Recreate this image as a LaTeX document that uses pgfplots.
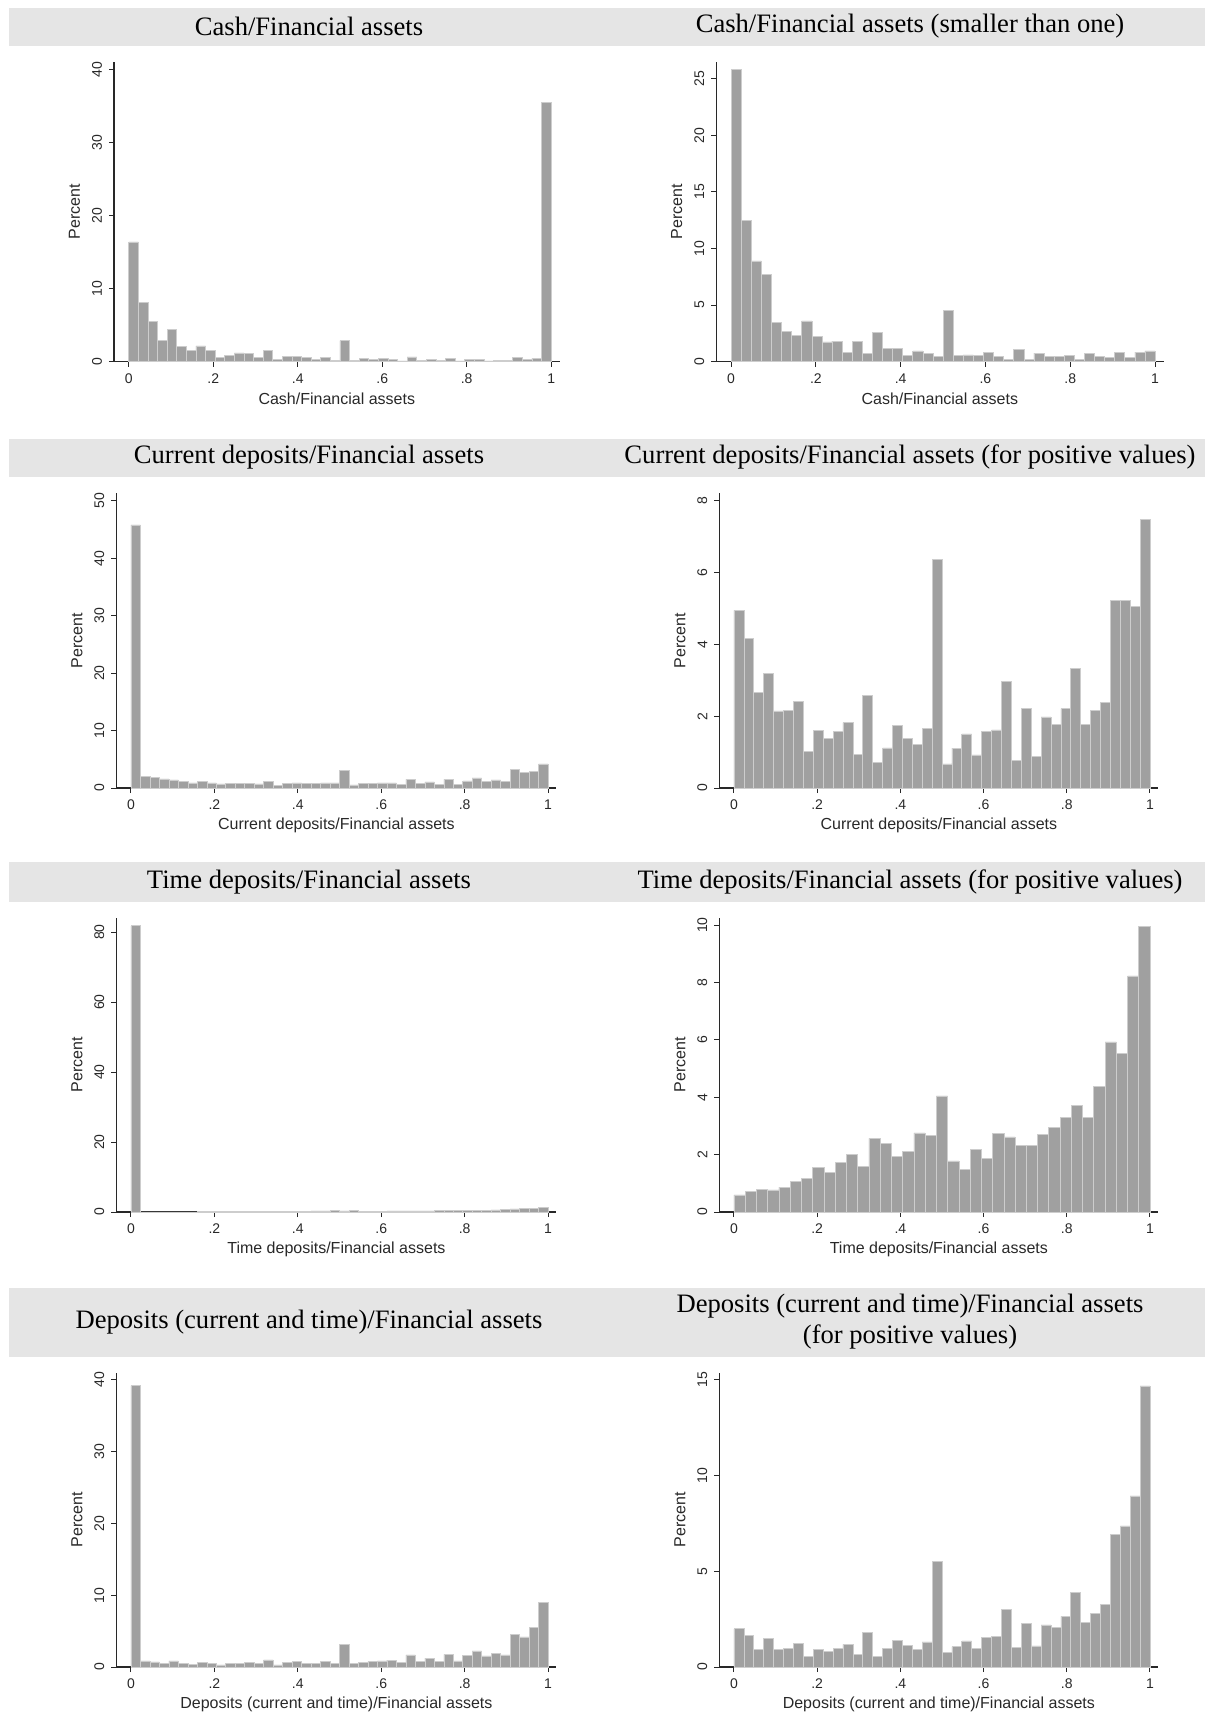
\documentclass[border=0pt]{standalone}
\usepackage{pgfplots}
\pgfplotsset{compat=1.18}
\usepackage{pgfplotstable}
\usepackage{fontspec}
\setmainfont{Liberation Sans}
\newfontfamily\titlefont{Liberation Serif}
\usetikzlibrary{calc}
\definecolor{barfill}{RGB}{160,160,160}
\definecolor{baredge}{RGB}{205,205,205}
\definecolor{band}{RGB}{229,229,229}
\definecolor{axcol}{RGB}{40,40,40}

% histogram heights (percent), bins of equal width on [0,1]; last row repeats the last bin (right edge)
\pgfplotstableread[header=false,row sep=\\]{16.4\\8.1\\5.5\\2.9\\4.4\\2.05\\1.55\\2.15\\1.6\\0.6\\0.9\\1.2\\1.15\\0.6\\1.6\\0.35\\0.75\\0.7\\0.55\\0.35\\0.55\\0.2\\2.9\\0.2\\0.45\\0.3\\0.45\\0.3\\0.1\\0.65\\0.2\\0.3\\0.15\\0.45\\0.1\\0.3\\0.35\\0.1\\0.15\\0.15\\0.55\\0.3\\0.45\\35.5\\35.5\\}\tA
\pgfplotstableread[header=false,row sep=\\]{25.8\\12.5\\8.9\\7.7\\3.45\\2.7\\2.35\\3.6\\2.25\\1.75\\1.8\\0.8\\1.8\\0.7\\2.6\\1.2\\1.2\\0.55\\0.95\\0.7\\0.45\\4.5\\0.55\\0.6\\0.55\\0.8\\0.5\\0.2\\1.1\\0.2\\0.75\\0.5\\0.45\\0.55\\0.2\\0.7\\0.45\\0.4\\0.8\\0.4\\0.85\\0.95\\0.95\\}\tB
\pgfplotstableread[header=false,row sep=\\]{45.8\\2.0\\1.8\\1.6\\1.4\\1.1\\0.9\\1.1\\0.9\\0.7\\0.8\\0.8\\0.85\\0.7\\1.2\\0.45\\0.75\\0.9\\0.75\\0.75\\0.9\\0.9\\3.1\\0.55\\0.75\\0.75\\0.9\\0.9\\0.6\\1.5\\0.75\\1.05\\0.65\\1.5\\0.65\\1.25\\1.75\\1.1\\1.4\\1.1\\3.25\\2.7\\2.9\\4.2\\4.2\\}\tC
\pgfplotstableread[header=false,row sep=\\]{4.95\\4.16\\2.67\\3.2\\2.15\\2.17\\2.41\\1.03\\1.61\\1.38\\1.57\\1.82\\0.94\\2.59\\0.72\\1.12\\1.74\\1.38\\1.21\\1.66\\6.36\\0.67\\1.11\\1.51\\0.92\\1.58\\1.62\\2.98\\0.76\\2.21\\0.88\\1.98\\1.78\\2.21\\3.33\\1.78\\2.17\\2.38\\5.23\\5.22\\5.07\\7.48\\7.48\\}\tD
\pgfplotstableread[header=false,row sep=\\]{81.8\\0.05\\0.05\\0.05\\0.05\\0.05\\0.05\\0.1\\0.1\\0.1\\0.1\\0.15\\0.15\\0.15\\0.2\\0.2\\0.2\\0.25\\0.25\\0.3\\0.3\\0.35\\0.3\\0.5\\0.25\\0.25\\0.25\\0.3\\0.3\\0.3\\0.3\\0.3\\0.35\\0.35\\0.4\\0.45\\0.5\\0.55\\0.6\\0.7\\0.9\\1.0\\1.1\\1.3\\1.3\\}\tE
\pgfplotstableread[header=false,row sep=\\]{0.6\\0.71\\0.78\\0.77\\0.87\\1.06\\1.17\\1.56\\1.37\\1.73\\2.02\\1.58\\2.57\\2.4\\1.94\\2.11\\2.76\\2.66\\4.05\\1.78\\1.49\\2.18\\1.87\\2.74\\2.62\\2.31\\2.31\\2.71\\2.96\\3.31\\3.72\\3.3\\4.38\\5.93\\5.52\\8.23\\9.95\\9.95\\}\tF
\pgfplotstableread[header=false,row sep=\\]{39.2\\0.85\\0.7\\0.55\\0.85\\0.5\\0.4\\0.65\\0.55\\0.3\\0.45\\0.55\\0.65\\0.45\\1.0\\0.3\\0.65\\0.75\\0.55\\0.55\\0.8\\0.55\\3.2\\0.5\\0.65\\0.75\\0.85\\0.95\\0.6\\1.7\\0.8\\1.25\\0.8\\1.75\\0.85\\1.65\\2.25\\1.55\\1.9\\1.7\\4.6\\4.2\\5.5\\8.95\\8.95\\}\tG
\pgfplotstableread[header=false,row sep=\\]{2.0\\1.65\\0.92\\1.5\\0.92\\0.98\\1.22\\0.54\\0.92\\0.82\\0.98\\1.18\\0.64\\1.79\\0.56\\0.98\\1.39\\1.11\\0.92\\1.31\\5.52\\0.75\\1.06\\1.36\\0.96\\1.53\\1.62\\3.03\\1.03\\2.28\\1.1\\2.2\\2.09\\2.65\\3.9\\2.35\\2.8\\3.28\\6.92\\7.37\\8.94\\14.69\\14.69\\}\tH

\pgfplotsset{
  stpanel/.style={
    scale only axis, anchor=south west,
    axis lines=left, axis line style={-, line width=0.55pt, color=axcol},
    xmin=-0.035, xmax=1.02, ymin=0,
    xtick={0,0.2,0.4,0.6,0.8,1}, xticklabels={0,.2,.4,.6,.8,1},
    tick align=outside, major tick length=2.5pt,
    tick style={color=axcol, line width=0.5pt},
    minor tick num=0,
    ticklabel style={font=\fontsize{7}{8.4}\selectfont, text=axcol},
    /pgf/number format/assume math mode=true,
    yticklabel style={rotate=90, anchor=south},
    xticklabel style={anchor=north},
    ylabel={Percent},
    label style={font=\fontsize{8}{9.6}\selectfont, text=axcol},
    xlabel style={at={(axis description cs:0.5,0)}, anchor=center, yshift=-18.5pt},
    ylabel style={at={($(axis description cs:0,0.5)+(-19.75pt,0pt)$)}, anchor=center},
    clip=false,
  },
  bars/.style={ybar interval, fill=barfill, draw=baredge, line width=0.3pt},
}

\begin{document}
\begin{tikzpicture}
\path[use as bounding box] (0pt,0pt) rectangle (602.5pt,-856pt);

% title bands
\fill[band] (4.35pt,-3.8pt) rectangle (602.5pt,-22.9pt);
\fill[band] (4.35pt,-219.4pt) rectangle (602.5pt,-238.5pt);
\fill[band] (4.35pt,-431.15pt) rectangle (602.5pt,-450.8pt);
\fill[band] (4.35pt,-644pt) rectangle (602.5pt,-678.35pt);

\begin{scope}[every node/.style={font=\titlefont\fontsize{13.3}{15.5}\selectfont, align=center}]
\node at (154.5pt,-13.1pt) {Cash/Financial assets};
\node at (455pt,-13.1pt) {Cash/Financial assets (smaller than one)};
\node at (154.5pt,-228.65pt) {Current deposits/Financial assets};
\node at (455pt,-228.65pt) {Current deposits/Financial assets (for positive values)};
\node at (154.5pt,-441pt) {Time deposits/Financial assets};
\node at (455pt,-441pt) {Time deposits/Financial assets (for positive values)};
\node at (154.5pt,-661pt) {Deposits (current and time)/Financial assets};
\node at (455pt,-661pt) {Deposits (current and time)/Financial assets\\(for positive values)};
\end{scope}

% Row 1
\begin{axis}[stpanel, at={(57pt,-180.85pt)}, width=222.8pt, height=150pt,
  ymax=41.04, ytick={0,10,20,30,40}, xlabel={Cash/Financial assets}]
\addplot[bars] table[x expr=\coordindex/44, y index=0] {\tA};
\end{axis}
\begin{axis}[stpanel, at={(358.1pt,-180.85pt)}, width=223.65pt, height=150pt,
  ymax=26.5, ytick={0,5,10,15,20,25}, xlabel={Cash/Financial assets}]
\addplot[bars] table[x expr=\coordindex/42, y index=0] {\tB};
\end{axis}

% Row 2
\begin{axis}[stpanel, at={(58.2pt,-394pt)}, width=220pt, height=147.35pt,
  ymax=51.3, ytick={0,10,20,30,40,50}, xlabel={Current deposits/Financial assets}]
\addplot[bars] table[x expr=\coordindex/44, y index=0] {\tC};
\end{axis}
\begin{axis}[stpanel, at={(359.7pt,-394pt)}, width=219.45pt, height=147.35pt,
  ymax=8.21, ytick={0,2,4,6,8}, xlabel={Current deposits/Financial assets}]
\addplot[bars] table[x expr=\coordindex/42, y index=0] {\tD};
\end{axis}

% Row 3
\begin{axis}[stpanel, at={(58.2pt,-606pt)}, width=220pt, height=147.15pt,
  ymax=84.1, ytick={0,20,40,60,80}, xlabel={Time deposits/Financial assets}]
\addplot[bars] table[x expr=\coordindex/44, y index=0] {\tE};
\end{axis}
\begin{axis}[stpanel, at={(359.7pt,-606pt)}, width=219.45pt, height=147.15pt,
  ymax=10.26, ytick={0,2,4,6,8,10}, xlabel={Time deposits/Financial assets}]
\addplot[bars] table[x expr=\coordindex/37, y index=0] {\tF};
\end{axis}

% Row 4
\begin{axis}[stpanel, at={(58.2pt,-833.5pt)}, width=220pt, height=147.15pt,
  ymax=41.0, ytick={0,10,20,30,40}, xlabel={Deposits (current and time)/Financial assets}]
\addplot[bars] table[x expr=\coordindex/44, y index=0] {\tG};
\end{axis}
\begin{axis}[stpanel, at={(359.7pt,-833.5pt)}, width=219.45pt, height=147.15pt,
  ymax=15.38, ytick={0,5,10,15}, xlabel={Deposits (current and time)/Financial assets}]
\addplot[bars] table[x expr=\coordindex/42, y index=0] {\tH};
\end{axis}
\end{tikzpicture}
\end{document}
